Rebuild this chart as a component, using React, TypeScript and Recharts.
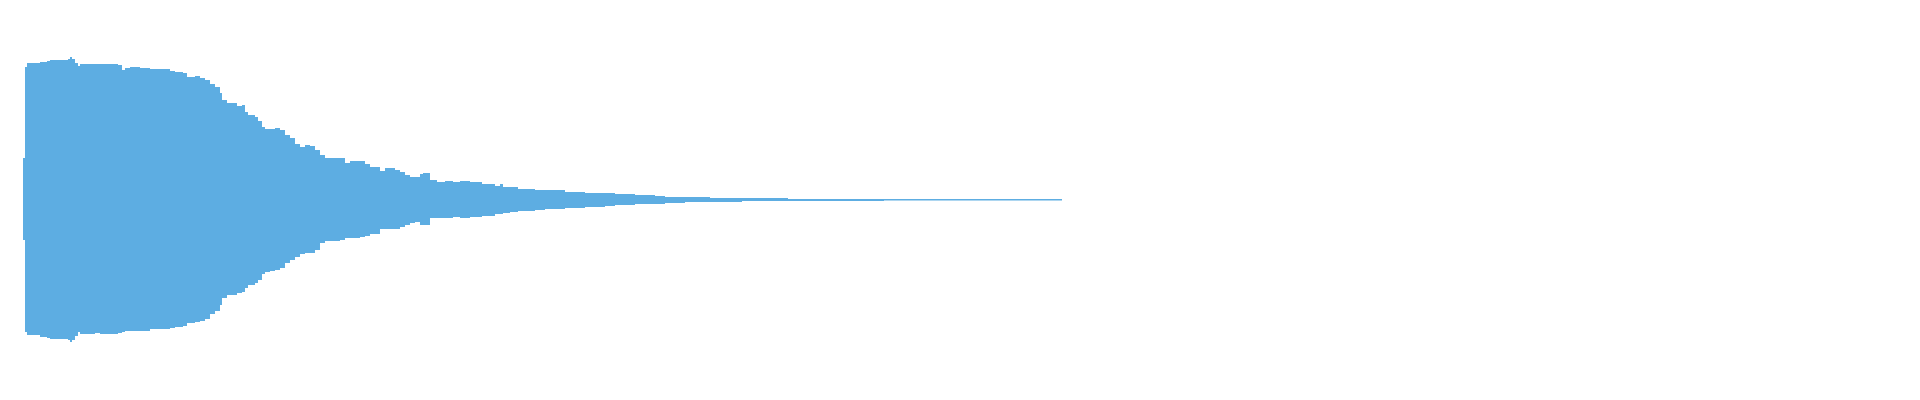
import { AreaChart, Area, XAxis, YAxis } from 'recharts'

// envelope of the waveform: sample block position, peak high, peak low
const TIME = [
  23, 25, 27, 33, 40, 47, 50, 55, 60, 65, 68, 70, 72, 75, 78, 80, 85, 90, 95, 100,
  110, 118, 122, 125, 130, 140, 150, 160, 170, 175, 183, 187, 195, 200, 205, 210, 215, 220, 222, 227,
  233, 237, 242, 245, 248, 255, 258, 262, 265, 270, 275, 280, 285, 290, 295, 300, 305, 310, 315, 320,
  325, 330, 340, 345, 350, 360, 365, 370, 380, 385, 395, 400, 405, 410, 415, 420, 423, 430, 437, 445,
  453, 460, 470, 477, 482, 490, 495, 500, 503, 510, 518, 525, 535, 545, 555, 565, 575, 585, 595, 605,
  615, 625, 635, 645, 655, 665, 675, 685, 695, 700, 710, 742, 788, 884, 1062,
]
const HIGH = [
  0.21, 0.665, 0.685, 0.685, 0.69, 0.695, 0.7, 0.7, 0.7, 0.7, 0.705, 0.715, 0.705, 0.685, 0.67, 0.68, 0.68, 0.68, 0.68, 0.68,
  0.68, 0.675, 0.65, 0.66, 0.665, 0.66, 0.655, 0.655, 0.645, 0.64, 0.635, 0.615, 0.62, 0.61, 0.6, 0.58, 0.565, 0.535, 0.5, 0.485,
  0.485, 0.47, 0.475, 0.44, 0.425, 0.415, 0.395, 0.365, 0.355, 0.355, 0.36, 0.35, 0.325, 0.31, 0.28, 0.265, 0.275, 0.27, 0.25, 0.225,
  0.21, 0.21, 0.21, 0.185, 0.195, 0.195, 0.18, 0.165, 0.145, 0.16, 0.15, 0.14, 0.125, 0.115, 0.115, 0.13, 0.135, 0.1, 0.09, 0.095,
  0.09, 0.095, 0.09, 0.09, 0.08, 0.08, 0.07, 0.08, 0.065, 0.065, 0.055, 0.055, 0.05, 0.05, 0.05, 0.04, 0.04, 0.035, 0.035, 0.035,
  0.03, 0.03, 0.025, 0.025, 0.02, 0.015, 0.015, 0.015, 0.015, 0.015, 0.01, 0.01, 0.005, 0.005, 0.005,
]
const LOW = [
  -0.2, -0.66, -0.675, -0.675, -0.685, -0.69, -0.695, -0.695, -0.695, -0.695, -0.7, -0.71, -0.7, -0.68, -0.66, -0.67, -0.67, -0.67, -0.665, -0.67,
  -0.67, -0.665, -0.66, -0.655, -0.655, -0.655, -0.645, -0.645, -0.64, -0.635, -0.63, -0.615, -0.61, -0.605, -0.595, -0.57, -0.555, -0.525, -0.49, -0.475,
  -0.475, -0.465, -0.46, -0.44, -0.425, -0.415, -0.4, -0.37, -0.36, -0.355, -0.35, -0.34, -0.315, -0.3, -0.285, -0.27, -0.265, -0.265, -0.25, -0.215,
  -0.205, -0.205, -0.2, -0.19, -0.19, -0.185, -0.18, -0.17, -0.145, -0.145, -0.145, -0.135, -0.125, -0.115, -0.11, -0.125, -0.125, -0.09, -0.09, -0.09,
  -0.085, -0.09, -0.085, -0.085, -0.08, -0.08, -0.07, -0.07, -0.065, -0.06, -0.055, -0.055, -0.05, -0.045, -0.045, -0.04, -0.04, -0.035, -0.035, -0.03,
  -0.025, -0.025, -0.02, -0.02, -0.02, -0.015, -0.015, -0.01, -0.01, -0.01, -0.01, -0.005, -0.005, -0.0025, -0.0025,
]

const data = TIME.map((t, i) => ({ t, range: [LOW[i], HIGH[i]] }))

export default function App() {
  return (
    <div style={{ position: 'absolute', left: 0, top: 0, background: '#ffffff' }}>
      <AreaChart width={1920} height={400} data={data} margin={{ top: 0, right: 0, bottom: 0, left: 0 }}>
        <XAxis dataKey="t" type="number" domain={[0, 1920]} hide />
        <YAxis type="number" domain={[-1, 1]} hide />
        <Area
          type="stepAfter"
          dataKey="range"
          fill="#5dade2"
          fillOpacity={1}
          stroke="none"
          dot={false}
          activeDot={false}
          isAnimationActive={false}
        />
      </AreaChart>
    </div>
  )
}
